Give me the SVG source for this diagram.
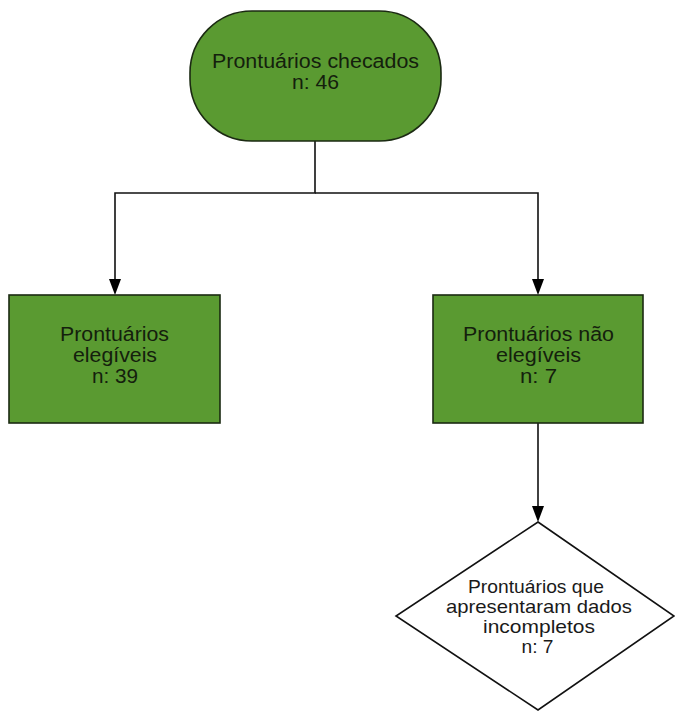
<svg xmlns="http://www.w3.org/2000/svg" width="675" height="711" viewBox="0 0 675 711">
<style>
.g{fill:#5a9a31;stroke:#1b2a12;stroke-width:1.6}
.d{fill:#ffffff;stroke:#111;stroke-width:1.6}
.t{font-family:"Liberation Sans",Arial,sans-serif;font-size:20px;fill:#14200d;text-anchor:middle}
.td{font-family:"Liberation Sans",Arial,sans-serif;font-size:19px;fill:#1a1a1a;text-anchor:middle}
.c{fill:none;stroke:#111;stroke-width:1.6}
.a{fill:#000}
</style>
<g id="connectors">
<path class="c" d="M315,141 V193 H115 V281"/>
<path class="c" d="M315,193 H538 V281"/>
<path class="c" d="M538,423 V508"/>
<path class="a" d="M109,279 L121,279 L115,295 Z"/>
<path class="a" d="M532,279 L544,279 L538,295 Z"/>
<path class="a" d="M532,506 L544,506 L538,522 Z"/>
</g>
<g id="n1">
<rect class="g" x="190" y="11" width="251" height="130" rx="62" ry="62"/>
<text class="t" x="315.5" y="68" textLength="207" lengthAdjust="spacingAndGlyphs">Prontuários checados</text>
<text class="t" x="315.5" y="89" textLength="47" lengthAdjust="spacingAndGlyphs">n: 46</text>
</g>
<g id="n2">
<rect class="g" x="9" y="295" width="211" height="128"/>
<text class="t" x="114.5" y="341" textLength="109" lengthAdjust="spacingAndGlyphs">Prontuários</text>
<text class="t" x="115" y="362" textLength="84" lengthAdjust="spacingAndGlyphs">elegíveis</text>
<text class="t" x="115" y="383" textLength="46" lengthAdjust="spacingAndGlyphs">n: 39</text>
</g>
<g id="n3">
<rect class="g" x="433" y="295" width="210" height="128"/>
<text class="t" x="538.5" y="341" textLength="151" lengthAdjust="spacingAndGlyphs">Prontuários não</text>
<text class="t" x="538.5" y="362" textLength="85" lengthAdjust="spacingAndGlyphs">elegíveis</text>
<text class="t" x="538.5" y="383" textLength="37" lengthAdjust="spacingAndGlyphs">n: 7</text>
</g>
<g id="n4">
<path class="d" d="M538,522 L674,616 L538,710 L396,616 Z"/>
<text class="td" x="536" y="593" textLength="136" lengthAdjust="spacingAndGlyphs">Prontuários que</text>
<text class="td" x="539" y="613" textLength="186" lengthAdjust="spacingAndGlyphs">apresentaram dados</text>
<text class="td" x="539" y="633" textLength="112" lengthAdjust="spacingAndGlyphs">incompletos</text>
<text class="td" x="537.5" y="653" textLength="32" lengthAdjust="spacingAndGlyphs">n: 7</text>
</g>
</svg>
